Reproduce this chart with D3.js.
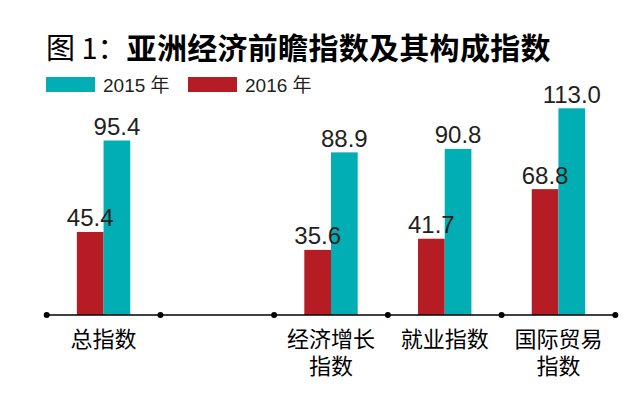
<!DOCTYPE html>
<html>
<head>
<meta charset="utf-8">
<script src="https://cdn.jsdelivr.net/npm/d3@7"></script>
<style>
  html, body { margin: 0; padding: 0; background: #fff; }
  svg { display: block; }
</style>
</head>
<body>
<div id="chart"></div>
<script>
const categories = ["总指数", "", "经济增长\n指数", "就业指数", "国际贸易\n指数"];
const values2016 = [45.4, null, 35.6, 41.7, 68.8];
const values2015 = [95.4, null, 88.9, 90.8, 113.0];
const seriesNames = ["2016 年", "2015 年"];
const legendOrder = ["2015 年", "2016 年"];

const width = 635, height = 398;
const colors = { "2015 年": "#00aeb3", "2016 年": "#b51c24" };
const latin = "'Liberation Sans', Arial, 'Noto Sans CJK SC', sans-serif";
const cjk = "'Noto Sans CJK SC', 'Liberation Sans', sans-serif";

const svg = d3.select("#chart").append("svg")
  .attr("width", width).attr("height", height);

// title
const title = svg.append("text")
  .attr("x", 46).attr("y", 59)
  .attr("font-family", cjk).attr("fill", "#000");
title.append("tspan").attr("font-weight", 400).attr("font-size", 29).text("图 1：");
title.append("tspan").attr("font-weight", 700).attr("font-size", 30)
  .attr("letter-spacing", 0.3).text("亚洲经济前瞻指数及其构成指数");

// legend
const legendX = [46, 188];
legendOrder.forEach((name, i) => {
  const g = svg.append("g").attr("transform", `translate(${legendX[i]},77)`);
  g.append("rect").attr("width", 49).attr("height", 15).attr("fill", colors[name]);
  g.append("text").attr("x", 57).attr("y", 14.5)
    .attr("font-family", latin).attr("font-size", 19).attr("fill", "#231f20")
    .text(name);
});

// scales
const x0 = d3.scaleBand().domain(categories).range([46.7, 615.3]).paddingInner(0).paddingOuter(0);
const x1 = d3.scaleBand().domain(seriesNames).range([0, x0.bandwidth()]).paddingInner(0).paddingOuter(1.13);
const y = d3.scaleLinear().domain([0, 113]).range([315, 108.3]);

const rows = categories.map((c, i) => ({
  cat: c,
  vals: [
    { name: "2016 年", v: values2016[i] },
    { name: "2015 年", v: values2015[i] },
  ].filter(d => d.v != null),
}));

const groups = svg.selectAll(".grp").data(rows).enter().append("g")
  .attr("class", "grp")
  .attr("transform", d => `translate(${x0(d.cat)},0)`);

groups.selectAll("rect").data(d => d.vals).enter().append("rect")
  .attr("x", d => x1(d.name))
  .attr("width", x1.bandwidth())
  .attr("y", d => y(d.v))
  .attr("height", d => y(0) - y(d.v))
  .attr("fill", d => colors[d.name]);

groups.selectAll("text").data(d => d.vals).enter().append("text")
  .attr("x", d => x1(d.name) + x1.bandwidth() / 2)
  .attr("y", d => y(d.v) - 5.5)
  .attr("text-anchor", "middle")
  .attr("font-family", latin).attr("font-size", 24).attr("fill", "#231f20")
  .text(d => d3.format(".1f")(d.v));

// axis
const axis = svg.append("g").attr("transform", `translate(0,${y(0)})`)
  .call(d3.axisBottom(x0).tickSize(0).tickPadding(0));
axis.select(".domain").remove();
axis.selectAll(".tick text").remove();

svg.append("line")
  .attr("x1", 44).attr("x2", 616)
  .attr("y1", y(0)).attr("y2", y(0))
  .attr("stroke", "#000").attr("stroke-width", 1.5);

const bounds = categories.map(c => x0(c)).concat([x0.range()[1]]);
svg.selectAll(".dot").data(bounds).enter().append("circle")
  .attr("class", "dot")
  .attr("cx", d => d).attr("cy", y(0)).attr("r", 3).attr("fill", "#000");

// category labels, one text per line
axis.selectAll(".tick").each(function (c) {
  const lines = c.split("\n");
  lines.forEach((ln, j) => {
    d3.select(this).append("text")
      .attr("x", 0).attr("y", 32 + j * 27.3)
      .attr("text-anchor", "middle")
      .attr("font-family", cjk).attr("font-size", 22).attr("fill", "#000")
      .text(ln);
  });
});
</script>
</body>
</html>
